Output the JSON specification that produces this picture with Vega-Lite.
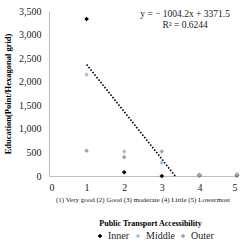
{
  "$schema": "https://vega.github.io/schema/vega-lite/v6.json",
  "autosize": {"type": "none"},
  "width": 188,
  "height": 165,
  "padding": {"left": 49, "top": 11, "right": 6, "bottom": 71},
  "config": {
    "font": "Liberation Serif",
    "view": {"stroke": null},
    "axis": {"labelFont": "Liberation Serif", "titleFont": "Liberation Serif", "grid": false, "ticks": false, "domainColor": "#bfbfbf", "labelColor": "#222222", "titleColor": "#000000", "labelOverlap": false},
    "legend": {"labelFont": "Liberation Serif"}
  },
  "datasets": {
    "pts": [
      {"x": 1, "y": 3330, "zone": "Inner"},
      {"x": 2, "y": 80, "zone": "Inner"},
      {"x": 3, "y": 0, "zone": "Inner"},
      {"x": 4, "y": 15, "zone": "Inner"},
      {"x": 5, "y": 10, "zone": "Inner"},
      {"x": 1, "y": 2150, "zone": "Middle"},
      {"x": 2, "y": 520, "zone": "Middle"},
      {"x": 3, "y": 280, "zone": "Middle"},
      {"x": 4, "y": 25, "zone": "Middle"},
      {"x": 5, "y": 30, "zone": "Middle"},
      {"x": 1, "y": 535, "zone": "Outer"},
      {"x": 2, "y": 400, "zone": "Outer"},
      {"x": 3, "y": 520, "zone": "Outer"},
      {"x": 4, "y": 25, "zone": "Outer"},
      {"x": 5, "y": 30, "zone": "Outer"}
    ],
    "trend": [
      {"x": 1, "y": 2367.3},
      {"x": 3.3575, "y": 0}
    ],
    "eq": [
      {"x": 3.62, "y": 3437, "t": "y = − 1004.2x + 3371.5"},
      {"x": 3.62, "y": 3203, "t": "R² = 0.6244"}
    ],
    "sub": [
      {"x": 2.5, "y": -500, "t": "(1) Very good (2) Good (3) moderate (4) Little (5) Lowermost"}
    ]
  },
  "encoding": {
    "x": {"field": "x", "type": "quantitative", "scale": {"domain": [0, 5], "nice": false},
      "axis": {"values": [0, 1, 2, 3, 4, 5], "format": "d", "labelFontSize": 10, "labelPadding": 6, "title": "Public Transport Accessibility", "titleFontSize": 8, "titleFontWeight": "bold", "titlePadding": 27, "titleX": 101}},
    "y": {"field": "y", "type": "quantitative", "scale": {"domain": [0, 3500], "nice": false},
      "axis": {"values": [0, 500, 1000, 1500, 2000, 2500, 3000, 3500], "format": ",.0f", "labelFontSize": 10, "labelPadding": 8, "title": "Education(Point/Hexagonal grid)", "titleFontSize": 8.5, "titleFontWeight": "bold", "titlePadding": 6}}
  },
  "layer": [
    {
      "data": {"name": "trend"},
      "mark": {"type": "line", "color": "#000000", "strokeWidth": 1.6, "strokeDash": [1.6, 1.6]},
      "encoding": {}
    },
    {
      "data": {"name": "pts"},
      "mark": {"type": "point", "shape": "diamond", "filled": true, "size": 22, "opacity": 1},
      "encoding": {
        "color": {"field": "zone", "type": "nominal",
          "scale": {"domain": ["Inner", "Middle", "Outer"], "range": ["#000000", "#9dc3e6", "#a5a5a5"]},
          "legend": {"orient": "none", "legendX": 46, "legendY": 220, "direction": "horizontal", "title": null, "labelFont": "Liberation Serif", "labelFontSize": 10, "labelColor": "#222222", "symbolType": "diamond", "symbolSize": 22, "columnPadding": 3, "labelOffset": 3}},
        "order": {"field": "zone"}
      }
    },
    {
      "data": {"name": "eq"},
      "mark": {"type": "text", "fontSize": 9.5, "color": "#222222", "align": "center", "baseline": "middle"},
      "encoding": {"text": {"field": "t"}}
    },
    {
      "data": {"name": "sub"},
      "mark": {"type": "text", "fontSize": 7, "color": "#222222", "align": "center", "baseline": "middle"},
      "encoding": {"text": {"field": "t"}}
    }
  ]
}
